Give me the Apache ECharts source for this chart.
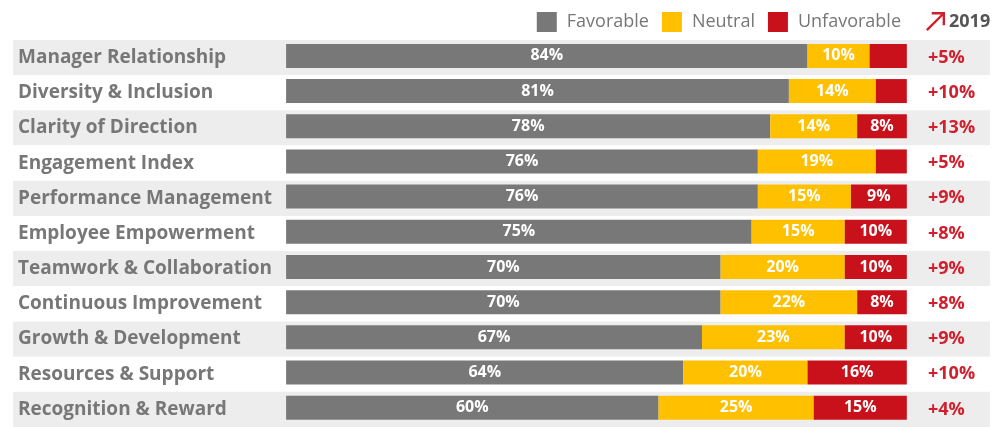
<!DOCTYPE html>
<html>
<head>
<meta charset="utf-8">
<script src="https://cdn.jsdelivr.net/npm/echarts@6/dist/echarts.min.js"></script>
<style>
  html, body { margin: 0; padding: 0; background: #fff; }
  #chart { width: 995px; height: 427px; }
</style>
</head>
<body>
<div id="chart"></div>
<script>
var categories = ['Manager Relationship', 'Diversity & Inclusion', 'Clarity of Direction', 'Engagement Index',
    'Performance Management', 'Employee Empowerment', 'Teamwork & Collaboration', 'Continuous Improvement',
    'Growth & Development', 'Resources & Support', 'Recognition & Reward'];
var favorable = [84, 81, 78, 76, 76, 75, 70, 70, 67, 64, 60];
var neutral = [10, 14, 14, 19, 15, 15, 20, 22, 23, 20, 25];
var unfavorable = [6, 5, 8, 5, 9, 10, 10, 8, 10, 16, 15];
var change2019 = ['+5%', '+10%', '+13%', '+5%', '+9%', '+8%', '+9%', '+8%', '+9%', '+10%', '+4%'];

var FONT = "'Open Sans', 'Noto Sans', sans-serif";
var arrowPath = 'path://M6,0 L20,0 L20,14 L17.5,14 L17.5,4.3 L1.8,20 L0,18.2 L15.7,2.5 L6,2.5 Z';
var option;

function barLabel(minShow) {
    return {
        show: true,
        position: 'inside',
        color: '#fff',
        fontFamily: FONT,
        fontWeight: 'bold',
        fontSize: 16,
        formatter: function (p) {
            return p.value >= minShow ? p.value + '%' : '';
        }
    };
}

function buildChart() {
    option = {
        animation: false,
        legend: [
            {
                right: 89,
                top: 7,
                itemWidth: 20,
                itemHeight: 20,
                itemGap: 13,
                icon: 'rect',
                textStyle: { color: '#777', fontSize: 18, fontFamily: FONT, padding: [0, 0, 0, 5] },
                data: ['Favorable', 'Neutral', 'Unfavorable']
            },
            {
                left: 921,
                top: 7,
                itemWidth: 19,
                itemHeight: 19,
                textStyle: { color: '#555', fontSize: 18, fontWeight: 'bold', fontFamily: FONT, padding: [0, 0, 0, -1] },
                data: [{ name: '2019', icon: arrowPath }]
            }
        ],
        grid: { left: 13, right: 5, top: 40, height: 394 },
        xAxis: {
            type: 'value',
            min: -44,
            max: 113.4,
            show: false,
            splitLine: { show: false }
        },
        yAxis: [
            {
                type: 'category',
                inverse: true,
                data: categories,
                axisLine: { show: false },
                axisTick: { show: false },
                splitArea: { show: true, areaStyle: { color: ['#ededed', '#ffffff'] } },
                axisLabel: {
                    inside: true,
                    margin: 5,
                    color: '#777',
                    fontSize: 19,
                    fontWeight: 'bold',
                    fontFamily: FONT
                }
            },
            {
                type: 'category',
                inverse: true,
                position: 'right',
                data: change2019,
                axisLine: { show: false },
                axisTick: { show: false },
                axisLabel: {
                    inside: true,
                    margin: 62,
                    align: 'left',
                    color: '#d0202e',
                    fontSize: 18,
                    fontWeight: 'bold',
                    fontFamily: FONT
                }
            }
        ],
        series: [
            {
                name: 'Favorable',
                type: 'bar',
                stack: 'total',
                barWidth: 24,
                itemStyle: { color: '#787878' },
                label: barLabel(0),
                data: favorable
            },
            {
                name: 'Neutral',
                type: 'bar',
                stack: 'total',
                barWidth: 24,
                itemStyle: { color: '#ffc000' },
                label: barLabel(0),
                data: neutral
            },
            {
                name: 'Unfavorable',
                type: 'bar',
                stack: 'total',
                barWidth: 24,
                itemStyle: { color: '#c9111b' },
                label: barLabel(8),
                data: unfavorable
            },
            {
                name: '2019',
                type: 'bar',
                itemStyle: { color: '#d0202e' },
                data: []
            }
        ]
    };
}

function setChart() {
    var myChart = echarts.init(document.getElementById('chart'));
    myChart.setOption(option);
}

buildChart();
setChart();
</script>
</body>
</html>
